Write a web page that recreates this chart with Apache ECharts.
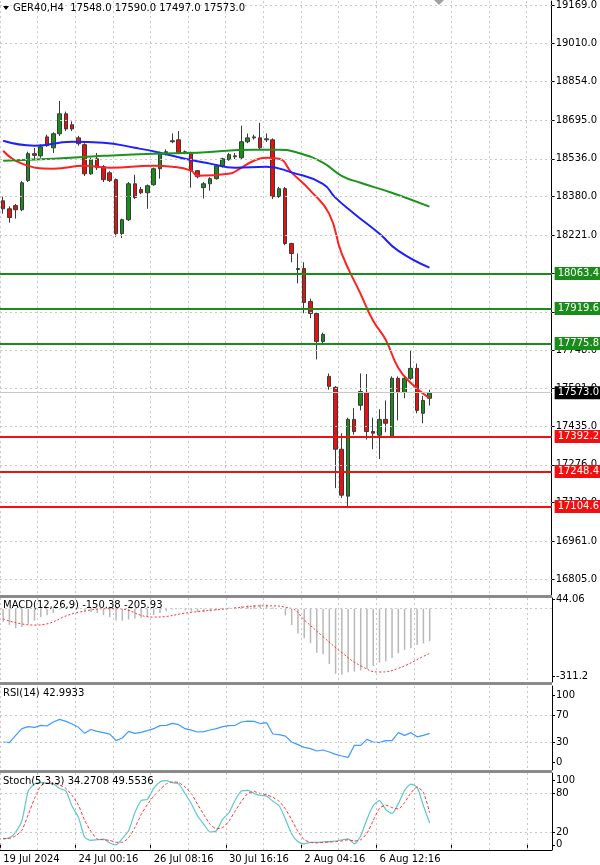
<!DOCTYPE html>
<html><head><meta charset="utf-8">
<script src="https://cdn.jsdelivr.net/npm/echarts@6/dist/echarts.min.js"></script>
<style>html,body{margin:0;padding:0;background:#fff}#c{width:600px;height:865px}</style>
</head><body><div id="c"></div>
<script>
// ---- data ----
const candles = [ // [open, close, low, high]
[18363,18330,18310,18380],[18330,18294,18273,18340],[18343,18326,18290,18350],[18326,18437,18320,18445],
[18446,18557,18440,18565],[18557,18550,18530,18580],[18548,18585,18540,18595],[18626,18590,18585,18635],
[18581,18639,18560,18645],[18639,18721,18630,18774],[18721,18659,18650,18730],[18676,18659,18650,18690],
[18622,18598,18590,18630],[18594,18474,18465,18600],[18474,18532,18470,18540],[18536,18499,18490,18560],
[18503,18450,18440,18510],[18478,18446,18440,18485],[18450,18228,18215,18455],[18228,18285,18210,18290],
[18285,18433,18280,18440],[18433,18376,18370,18470],[18409,18396,18390,18420],[18396,18425,18330,18430],
[18429,18495,18425,18500],[18495,18557,18454,18565],[18561,18565,18550,18575],[18606,18610,18600,18640],
[18614,18561,18555,18650],[18565,18561,18555,18570],[18557,18487,18417,18565],[18487,18462,18455,18490],
[18417,18433,18372,18440],[18433,18454,18405,18460],[18454,18507,18450,18512],[18507,18536,18500,18540],
[18532,18553,18528,18560],[18544,18548,18535,18560],[18540,18606,18535,18672],[18606,18622,18600,18640],
[18622,18626,18615,18635],[18622,18581,18575,18684],[18614,18618,18605,18640],[18614,18380,18370,18620],
[18380,18413,18375,18420],[18413,18187,18180,18420],[18187,18146,18110,18190],[18084,18080,18023,18146],
[18084,17944,17900,18110],[17948,17899,17880,17960],[17899,17784,17710,17905],[17784,17813,17770,17820],
[17640,17599,17585,17652],[17595,17340,17180,17600],[17340,17151,17140,17406],[17147,17463,17102,17470],
[17463,17413,17400,17509],[17521,17578,17500,17652],[17574,17413,17380,17650],[17413,17406,17340,17470],
[17398,17463,17300,17505],[17463,17447,17410,17541],[17393,17632,17390,17640],[17632,17574,17459,17640],
[17574,17632,17550,17640],[17632,17673,17625,17747],[17673,17500,17488,17693],[17488,17541,17447,17560],
[17550,17573,17520,17585]];
const maRedPts = [[0,18569],[3,18516],[8,18495],[13,18507],[17,18499],[24,18507],[27,18503],[30,18487],[31,18466],[36,18474],[38,18499],[40,18528],[42,18540],[44,18536],[46,18480],[49,18405],[52,18310],[54,18146],[57,17981],[59,17870],[61,17792],[63,17677],[65,17614],[68,17550]];
const maBluePts = [[0,18610],[5,18590],[11,18606],[16,18602],[21,18581],[25,18561],[29,18536],[33,18516],[37,18499],[42,18503],[46,18480],[51,18433],[53,18376],[56,18310],[60,18228],[63,18158],[68,18088]];
const maGreenPts = [[0,18528],[8,18536],[16,18548],[24,18557],[31,18561],[40,18573],[44,18573],[47,18561],[51,18520],[54,18466],[57,18437],[62,18396],[68,18339]];
const greenLevels = [18063.4,17919.6,17775.8];
const redLevels = [17392.2,17248.4,17104.6];
const lastPrice = 17573.0;
const priceTicks = [19169,19010,18854,18695,18536,18380,18221,18063,17906,17748,17591,17435,17276,17120,16961,16805];
const macdTicks = [44.06,0,-311.2];
const macdHist = [-60,-75,-90,-85,-70,-55,-40,-30,-20,-5,5,10,5,-10,-15,-20,-30,-40,-55,-55,-50,-45,-42,-38,-30,-20,-12,-5,-3,-8,-12,-15,-15,-12,-8,-3,5,8,12,16,18,19,18,5,0,
-31,-76,-114,-136,-159,-203,-210,-255,-300,-305,-293,-290,-285,-278,-264,-249,-242,-227,-205,-190,-183,-168,-160,-150];
const macdSignalPts = [[0,-47],[5,-76],[12,-17],[18,0],[24,-39],[30,-17],[36,0],[42,13],[46,0],[48,-52],[51,-129],[54,-203],[57,-263],[60,-292],[63,-275],[67,-220],[68,-206]];
const rsi = [30,29,40,50,53,52,55,54,60,64,61,57,52,43,48.8,46,44,41.8,32,36,46,43,44.5,47,50,54.6,55,58,56,50,47.7,45,45.5,48,50,53,54.6,55,60,61.4,61,57.7,59,42,41,38.8,30,26,22,20,16.5,18,15,11.4,9,6.9,25,25,34,30,29,32,32,44,40,44,37.8,40,43];
const stochK = [9,11,20,38,84,95,97,96,95,88,84,60,43,12,7,8,9,3,0,10,22,50,69,71,88,98,100,97,94.7,80,64,45,32,20,22,40,50,70,84,85,80,77,76,68,61,40,17,5,1.5,4,4,4.5,5,6,7.7,9.3,1.5,13.8,40,61,69,55,49,64,85,94.7,89.6,61,34];
const stochD = [10,10,14,23,47,72,92,96,96,93,88,77,62,38,21,9,8,7,4,4,11,27,47,63,76,86,95,98,97,90,80,63,47,32,25,27,37,53,68,80,83,80,78,74,68,56,39,21,8,4,3,4,4.5,5,6,8,6,8,18,38,57,62,58,56,66,81,90,82,50];
const xTickLabels = {0:'19 Jul 2024',12:'24 Jul 00:16',24:'26 Jul 08:16',36:'30 Jul 16:16',48:'2 Aug 04:16',60:'6 Aug 12:16'};
const N = 88;

// ---- build ----
const cats = Array.from({length:N},(_,i)=>String(i));
function sparse(pts){const a=new Array(N).fill(null);pts.forEach(p=>a[p[0]]=p[1]);return a;}
const F='"DejaVu Sans", sans-serif';
const grids=[{left:0,right:48,top:0,height:595},{left:0,right:48,top:598,height:84},{left:0,right:48,top:686,height:84},{left:0,right:48,top:773,height:77}];
const xAxes=grids.map((g,k)=>({type:'category',gridIndex:k,data:cats,boundaryGap:true,
  axisLine:{show:false},axisTick:{show:k===3,interval:(i)=>i%12===0,length:3,lineStyle:{color:'#000'}},
  axisLabel:{show:k===3,interval:(i)=>xTickLabels[i]!==undefined,formatter:(v)=>xTickLabels[+v]||'',align:'left',margin:4,fontSize:10,fontFamily:F,color:'#000'},
  splitLine:{show:true,interval:(i)=>i%6===0,lineStyle:{color:'#c8c8c8',type:[2,3]}}}));
function yax(k,min,max,vals,fmt){return {type:'value',gridIndex:k,position:'right',min:min,max:max,scale:true,
  axisLine:{show:true,lineStyle:{color:'#000'}},axisTick:{show:true,customValues:vals,length:3,lineStyle:{color:'#000'}},
  axisLabel:{customValues:vals,formatter:fmt,fontSize:10,fontFamily:F,color:'#000',margin:4,hideOverlap:false,showMinLabel:true,showMaxLabel:true},
  splitLine:{show:false}};}
const yAxes=[yax(0,16740,19185,priceTicks,v=>v.toFixed(1)),
  yax(1,-338,49,macdTicks,v=>(Math.abs(v+311.2)<0.01?'-311.2':v.toFixed(2))),
  yax(2,-12,114,[100,70,30,0],v=>String(v)),
  yax(3,-8,112,[100,80,20,0],v=>String(v))];

function lvl(v,bg){return {yAxis:v,lineStyle:{color:bg,width:2,type:'solid'},label:{show:true,position:'end',distance:3,formatter:v.toFixed(1),backgroundColor:bg,color:'#fff',fontSize:10,fontFamily:F,padding:[2,3,1,3]}};}
function hline(k,vals){return {type:'line',xAxisIndex:k,yAxisIndex:k,data:[],markLine:{silent:true,symbol:'none',label:{show:false},lineStyle:{color:'#c8c8c8',type:[2,3],width:1},data:vals.map(v=>({yAxis:v}))}};}

const series=[
  hline(0,priceTicks),
  {type:'candlestick',xAxisIndex:0,yAxisIndex:0,data:candles,barWidth:4,
   itemStyle:{color:'#1a8c1a',color0:'#e81010',borderColor:'#3a3a3a',borderColor0:'#3a3a3a',borderWidth:1},z:3,
   markLine:{silent:true,symbol:'none',data:[
     ...greenLevels.map(v=>lvl(v,'#1a8c1a')),...redLevels.map(v=>lvl(v,'#f01010')),
     {yAxis:lastPrice,lineStyle:{color:'#c8c8c8',width:1,type:'solid'},label:{show:true,position:'end',distance:3,formatter:lastPrice.toFixed(1),backgroundColor:'#000',color:'#fff',fontSize:10,fontFamily:F,padding:[2,3,1,3]}}]}},
  {type:'line',xAxisIndex:0,yAxisIndex:0,data:sparse(maRedPts),connectNulls:true,smooth:true,symbol:'none',lineStyle:{color:'#ff2020',width:2},z:4},
  {type:'line',xAxisIndex:0,yAxisIndex:0,data:sparse(maBluePts),connectNulls:true,smooth:true,symbol:'none',lineStyle:{color:'#1f1fff',width:2},z:4},
  {type:'line',xAxisIndex:0,yAxisIndex:0,data:sparse(maGreenPts),connectNulls:true,smooth:true,symbol:'none',lineStyle:{color:'#1a941a',width:2},z:4},
  hline(1,[0]),
  {type:'bar',xAxisIndex:1,yAxisIndex:1,data:macdHist,barWidth:1.5,itemStyle:{color:'#b8b8b8'}},
  {type:'line',xAxisIndex:1,yAxisIndex:1,data:sparse(macdSignalPts),connectNulls:true,smooth:true,symbol:'none',lineStyle:{color:'#ff3030',width:1,type:[2,2]}},
  hline(2,[70,30]),
  {type:'line',xAxisIndex:2,yAxisIndex:2,data:rsi,symbol:'none',lineStyle:{color:'#3d9bff',width:1.2}},
  hline(3,[80,20]),
  {type:'line',xAxisIndex:3,yAxisIndex:3,data:stochK,symbol:'none',smooth:0.2,lineStyle:{color:'#5cc8c8',width:1.2}},
  {type:'line',xAxisIndex:3,yAxisIndex:3,data:stochD,symbol:'none',smooth:0.2,lineStyle:{color:'#ff3030',width:1,type:[3,2]}}
];
const T=(x,y,t)=>({type:'text',left:x,top:y,z:100,style:{text:t,fontSize:10,fontFamily:F,fill:'#000'}});
const bar=(y)=>({type:'rect',shape:{x:0,y:y,width:552,height:3},style:{fill:'#8a8a8a'},z:90});
const chart=echarts.init(document.getElementById('c'),null,{renderer:'canvas'});
chart.setOption({animation:false,backgroundColor:'#fff',grid:grids,xAxis:xAxes,yAxis:yAxes,series:series,
 graphic:[bar(595),bar(682),bar(770),
  {type:'rect',shape:{x:0,y:850,width:552,height:1},style:{fill:'#000'},z:90},
  {type:'polygon',shape:{points:[[434,0],[444,0],[439,5]]},style:{fill:'#a0a0a0'},z:90},
  {type:'polygon',shape:{points:[[3,6],[9,6],[6,10]]},style:{fill:'#000'},z:100},
  T(13,3,'GER40,H4  17548.0 17590.0 17497.0 17573.0'),
  T(3,600,'MACD(12,26,9) -150.38 -205.93'),
  T(3,688,'RSI(14) 42.9933'),
  T(3,776,'Stoch(5,3,3) 34.2708 49.5536')]});
</script></body></html>
